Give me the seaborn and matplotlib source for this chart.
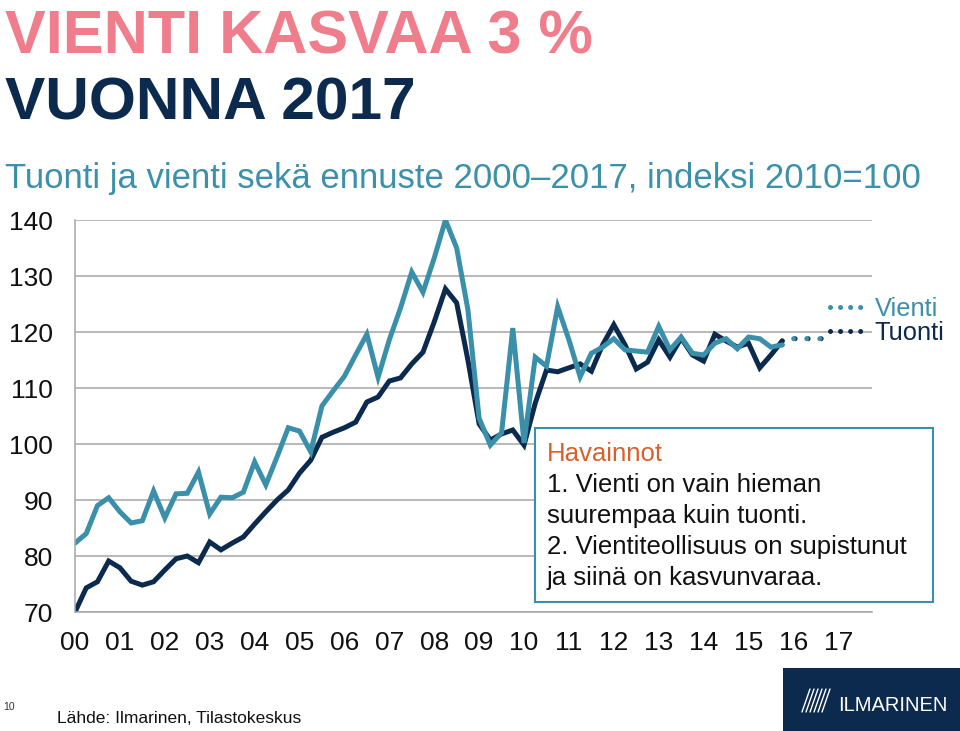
import numpy as np
import pandas as pd
import matplotlib
matplotlib.use("Agg")
import matplotlib.pyplot as plt
import seaborn as sns
from matplotlib.lines import Line2D
from matplotlib.patches import Rectangle

# quarterly index 2010=100, 2000Q1 onwards
vienti = [82.3, 84.0, 89.0, 90.4, 87.9, 85.9, 86.3, 91.6, 86.8, 91.1, 91.2, 95.0,
          87.5, 90.5, 90.4, 91.4, 96.8, 92.7, 97.7, 102.9, 102.3, 98.6, 106.8, 109.5,
          112.1, 115.9, 119.6, 111.9, 118.6, 124.3, 130.7, 127.1, 133.2, 140.0, 135.0, 124.0,
          104.6, 99.8, 102.0, 120.7, 100.2, 115.5, 113.9, 124.5, 118.6, 112.0, 116.2, 117.3,
          118.8, 116.8, 116.6, 116.4, 121.0, 116.8, 119.1, 116.2, 115.9, 118.0, 118.8, 117.0,
          119.1, 118.8, 117.3, 117.7]
tuonti = [70.0, 74.3, 75.4, 79.1, 77.9, 75.5, 74.8, 75.4, 77.5, 79.5, 80.0, 78.8,
          82.5, 81.1, 82.3, 83.4, 85.7, 87.9, 90.0, 91.8, 94.8, 97.1, 101.2, 102.1,
          102.9, 103.9, 107.5, 108.4, 111.25, 111.8, 114.3, 116.4, 121.8, 127.7, 125.2, 115.0,
          103.6, 100.7, 101.8, 102.5, 99.8, 107.3, 113.2, 112.9, 113.6, 114.3, 113.0, 117.7,
          121.3, 117.7, 113.4, 114.6, 118.6, 115.5, 118.9, 115.9, 114.8, 119.6, 118.4, 117.3,
          118.0, 113.6, 115.9, 118.4]
# forecast continuation (dotted)
vienti_ennuste = [117.7, 118.8, 118.8, 118.8, 118.8]
tuonti_ennuste = [118.4, 118.8, 118.8, 118.8, 118.8]
vuodet = ["00", "01", "02", "03", "04", "05", "06", "07", "08", "09",
          "10", "11", "12", "13", "14", "15", "16", "17"]
y_ticks = [70, 80, 90, 100, 110, 120, 130, 140]

VIENTI_C = "#3a8faa"
TUONTI_C = "#0c2a4d"
PINK = "#f07d8c"
TEAL = "#3c91aa"
ORANGE = "#d8602a"
GRID = "#a6a6a6"

sns.set_style("white")
plt.rcParams["font.family"] = ["Liberation Sans", "DejaVu Sans"]

n = len(vienti)
df = pd.DataFrame({"q": np.arange(n), "Vienti": vienti, "Tuonti": tuonti})
long = df.melt(id_vars="q", var_name="sarja", value_name="arvo")
m = len(vienti_ennuste)
fc = pd.DataFrame({"q": np.arange(n - 1, n - 1 + m), "Vienti": vienti_ennuste,
                   "Tuonti": tuonti_ennuste})
fc_long = fc.melt(id_vars="q", var_name="sarja", value_name="arvo")
palette = {"Vienti": VIENTI_C, "Tuonti": TUONTI_C}

fig = plt.figure(figsize=(9.6, 7.31), dpi=100)
ax = fig.add_axes([75 / 960, 1 - 612 / 731, 797 / 960, 392 / 731])

sns.lineplot(data=long, x="q", y="arvo", hue="sarja", palette=palette,
             hue_order=["Tuonti", "Vienti"], linewidth=3.6, legend=False,
             ax=ax, solid_joinstyle="miter")
sns.lineplot(data=fc_long, x="q", y="arvo", hue="sarja", palette=palette,
             hue_order=["Tuonti", "Vienti"], linewidth=3.6, legend=False, ax=ax,
             linestyle=(0, (0.01, 2.6)), dash_capstyle="round")

ax.set_xlim(0, 71)
ax.set_ylim(70, 140)
ax.set_yticks(y_ticks)
ax.set_yticklabels([str(v) for v in y_ticks])
ax.set_xticks(range(72))
ax.set_xticklabels([vuodet[i // 4] if i % 4 == 0 else "" for i in range(72)])
ax.set_xlabel("")
ax.set_ylabel("")
ax.grid(axis="y", color=GRID, linewidth=1.1)
ax.grid(axis="x", visible=False)
for s in ["top", "right"]:
    ax.spines[s].set_visible(False)
for s in ["left", "bottom"]:
    ax.spines[s].set_color(GRID)
    ax.spines[s].set_linewidth(1.1)
ax.tick_params(axis="y", length=0, pad=16, labelsize=19, labelcolor="#111111")
ax.tick_params(axis="x", length=4.5, width=1, color=GRID, direction="out", pad=9,
               labelsize=19, labelcolor="#111111")

# legend
handles = [Line2D([], [], color=VIENTI_C, lw=3.6, linestyle=(0, (0.01, 2.0)),
                  dash_capstyle="round"),
           Line2D([], [], color=TUONTI_C, lw=3.6, linestyle=(0, (0.01, 2.0)),
                  dash_capstyle="round")]
leg = fig.legend(handles, ["Vienti", "Tuonti"], loc="upper left",
                 bbox_to_anchor=(830 / 960, 1 - 297 / 731), frameon=False,
                 fontsize=18.4, handlelength=1.4, handletextpad=0.35,
                 labelspacing=0.0, borderpad=0, borderaxespad=0)
for t, c in zip(leg.get_texts(), [VIENTI_C, TUONTI_C]):
    t.set_color(c)

# titles
fig.text(5 / 960, 1 - 54 / 731, "VIENTI KASVAA 3 %", color=PINK, fontsize=44,
         fontweight="bold", ha="left", va="baseline")
fig.text(5 / 960, 1 - 120 / 731, "VUONNA 2017", color=TUONTI_C, fontsize=43.5,
         fontweight="bold", ha="left", va="baseline")
fig.text(5 / 960, 1 - 188 / 731,
         "Tuonti ja vienti sekä ennuste 2000\u20132017, indeksi 2010=100",
         color=TEAL, fontsize=25, ha="left", va="baseline")

# observation box
fig.add_artist(Rectangle((535 / 960, 1 - 602 / 731), 398 / 960, 174 / 731,
                         transform=fig.transFigure, facecolor="white",
                         edgecolor=VIENTI_C, linewidth=1.5, zorder=5))
fig.text(547 / 960, 1 - 461 / 731, "Havainnot", color=ORANGE, fontsize=18.5,
         va="baseline", zorder=6)
box_lines = ["1. Vienti on vain hieman", "suurempaa kuin tuonti.",
             "2. Vientiteollisuus on supistunut", "ja siinä on kasvunvaraa."]
for k, line in enumerate(box_lines):
    fig.text(547 / 960, 1 - (492 + 31 * k) / 731, line, color="#111111",
             fontsize=18.5, va="baseline", zorder=6)

# footer
fig.text(3 / 960, 1 - 710 / 731, "10", fontsize=7.5, color="#333333")
fig.text(57 / 960, 1 - 723 / 731, "Lähde: Ilmarinen, Tilastokeskus",
         fontsize=12.5, color="#111111", va="baseline")
fig.add_artist(Rectangle((783 / 960, 0), 177 / 960, 63 / 731,
                         transform=fig.transFigure, facecolor=TUONTI_C,
                         edgecolor="none"))
for k in range(6):
    x0 = (802 + 4 * k) / 960
    fig.add_artist(Line2D([x0, x0 + 8 / 960], [1 - 712 / 731, 1 - 689 / 731],
                          transform=fig.transFigure, color="white", lw=1.0))
fig.text(838 / 960, 1 - 711 / 731, "ILMARINEN", color="white", fontsize=14.5,
         va="baseline")

fig.savefig("out.png", dpi=100)
